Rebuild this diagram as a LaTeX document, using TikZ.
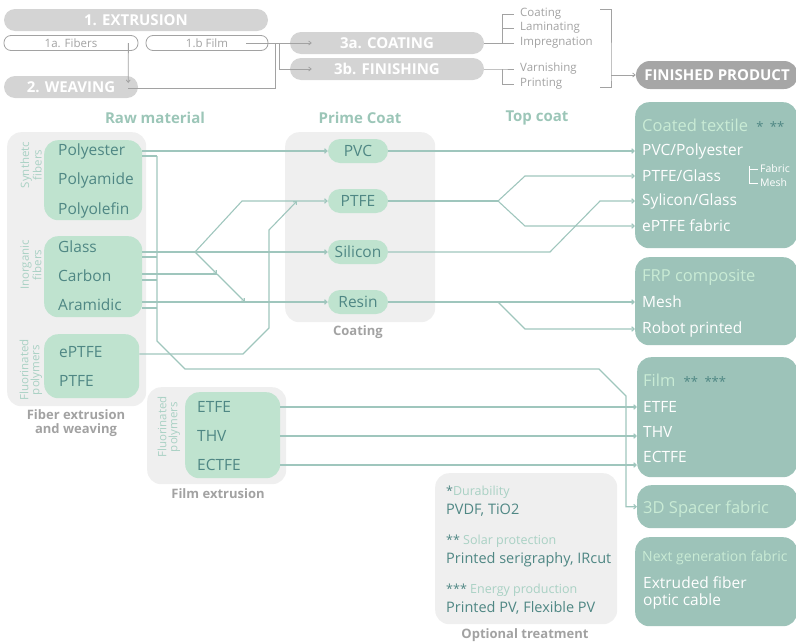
\documentclass[tikz,border=0pt]{standalone}
\usepackage{fontspec}
\setmainfont{Open Sans}
\usepackage{xcolor}
\usetikzlibrary{arrows.meta, positioning, calc}
\definecolor{pillgrey}{HTML}{D4D4D4}
\definecolor{darkgrey}{HTML}{A6A6A6}
\definecolor{subgrey}{HTML}{A2A2A2}
\definecolor{panelgrey}{HTML}{EFEFEF}
\definecolor{mint}{HTML}{BFE3CF}
\definecolor{darkteal}{HTML}{4F8784}
\definecolor{paleteal}{HTML}{A9D1C4}
\definecolor{headteal}{HTML}{9CC6B8}
\definecolor{boxteal}{HTML}{9DC3B9}
\definecolor{lightgreen}{HTML}{C9EBD5}
\definecolor{linkteal}{HTML}{9FC6BD}

\begin{document}
\begin{tikzpicture}[
  x=1pt, y=-1pt,
  stage/.style={fill=pillgrey, rounded corners=11pt, text=white, font=\bfseries\fontsize{15}{15}\selectfont, minimum height=22pt, inner sep=0pt},
  substage/.style={draw=subgrey, line width=0.8pt, rounded corners=7pt, text=subgrey, font=\fontsize{11.5}{12}\selectfont, minimum height=15pt, inner sep=0pt},
  grayline/.style={draw=subgrey, line width=0.8pt},
  grayarrow/.style={grayline, -{Straight Barb[length=2.5pt,width=4pt]}},
  smallgrey/.style={text=subgrey, font=\fontsize{11.5}{12}\selectfont, anchor=west, inner xsep=6pt, inner ysep=0pt},
  header/.style={text=headteal, font=\bfseries\fontsize{15}{15}\selectfont},
  panel/.style={fill=panelgrey, rounded corners=14pt, anchor=north west, inner sep=0pt},
  panellabel/.style={text=subgrey, font=\bfseries\fontsize{13}{14}\selectfont, align=center},
  matbox/.style={fill=mint, rounded corners=14pt, anchor=north west, inner sep=0pt},
  matitem/.style={text=darkteal, font=\fontsize{15.5}{16}\selectfont, anchor=west, inner sep=0pt},
  sidelabel/.style={text=paleteal, font=\fontsize{11.5}{11}\selectfont, rotate=90, align=center, inner sep=0pt},
  coat/.style={fill=mint, rounded corners=12pt, minimum width=60pt, minimum height=24pt, text=darkteal, font=\fontsize{15.5}{16}\selectfont, inner sep=0pt},
  product/.style={fill=boxteal, rounded corners=14pt, anchor=north west, inner sep=0pt},
  prodtitle/.style={text=lightgreen, font=\fontsize{16.5}{16}\selectfont, anchor=west, inner sep=0pt},
  proditem/.style={text=white, font=\fontsize{15.5}{16}\selectfont, anchor=west, inner sep=0pt, align=left},
  optkey/.style={text=paleteal, font=\fontsize{12.5}{13}\selectfont, anchor=west, inner sep=0pt},
  optval/.style={text=darkteal, font=\fontsize{14.5}{15}\selectfont, anchor=west, inner sep=0pt},
  wire/.style={draw=linkteal, line width=1.1pt},
  link/.style={wire, -{Straight Barb[length=2.5pt,width=4.5pt]}}
]
  \useasboundingbox (0,0) rectangle (796,643);

  % process stages
  \node[stage, minimum width=264pt] (extrusion) at (136,20) {1. EXTRUSION};
  \node[substage, minimum width=134pt] (fibers) at (71,43) {1a. Fibers};
  \node[substage, minimum width=122pt] (film) at (207,43) {1.b Film};
  \node[stage, minimum width=134pt] (weaving) at (71,87) {2. WEAVING};
  \node[stage, minimum width=194pt] (coatA) at (387,43) {3a. COATING};
  \node[stage, minimum width=194pt] (coatB) at (387,69) {3b. FINISHING};
  \node[stage, fill=darkgrey, minimum width=162pt, minimum height=28pt, rounded corners=14pt] (finished) at (717,75) {FINISHED PRODUCT};

  \node[smallgrey] (tcoating) at (514,14) {Coating};
  \node[smallgrey] (tlaminating) at (514,28) {Laminating};
  \node[smallgrey] (timpregnation) at (514,43) {Impregnation};
  \node[smallgrey] (tvarnishing) at (514,69) {Varnishing};
  \node[smallgrey] (tprinting) at (514,84) {Printing};

  \coordinate (filmjoin) at (275,43);
  \coordinate (filmfork) at (279,43);
  \coordinate (coatAfork) at (502,43);
  \coordinate (coatBfork) at (502,69);
  \coordinate (brtop) at (600,9);
  \coordinate (brbot) at (600,87);
  \coordinate (brout) at (611,75);

  \draw[grayarrow] ([xshift=-10pt]fibers.east) -- ([xshift=-10pt,yshift=4pt]weaving.east);
  \draw[grayarrow] ([xshift=-22pt]film.east) -- ([xshift=22pt]coatA.west);
  \draw[grayline] ([xshift=-10pt,yshift=-1pt]weaving.east) -| (filmjoin);
  \draw[grayarrow] (filmfork) |- ([xshift=22pt]coatB.west);
  \draw[grayline] (coatA.east) -- (coatAfork) |- (tcoating.west);
  \draw[grayline] (coatAfork) |- (tlaminating.west);
  \draw[grayline] (coatAfork) -- (timpregnation.west);
  \draw[grayline] (coatB.east) -- (coatBfork) -- (tvarnishing.west);
  \draw[grayline] (coatBfork) |- (tprinting.west);
  \draw[grayline] (brtop) -| (brout) |- (brbot);
  \draw[grayarrow] (brout) -- (finished.west);

  % column heads
  \node[header] (rawhead) at (155,118) {Raw material};
  \node[header] (primehead) at (360,118) {Prime Coat};
  \node[header] (tophead) at (537,118) {Top coat};

  % panels
  \node[panel, minimum width=139pt, minimum height=274pt] (fiberpanel) at (7,132) {};
  \node[panel, minimum width=150pt, minimum height=190pt] (coatpanel) at (285,132) {};
  \node[panel, minimum width=139pt, minimum height=97pt] (filmpanel) at (147,387) {};
  \node[panel, minimum width=182pt, minimum height=151pt] (optpanel) at (435,473) {};
  \node[panellabel] (fiberlabel) at (76,423) {Fiber extrusion\\and weaving};
  \node[panellabel] (coatlabel) at (358,332) {Coating};
  \node[panellabel] (filmlabel) at (218,494) {Film extrusion};
  \node[panellabel] (optlabel) at (525,635) {Optional treatment};

  % raw materials
  \node[matbox, minimum width=98pt, minimum height=80pt] (synbox) at (44,140) {};
  \node[matbox, minimum width=98pt, minimum height=81pt] (inorgbox) at (44,236) {};
  \node[matbox, minimum width=95pt, minimum height=64pt] (fluorbox) at (44,334) {};
  \node[sidelabel] (synlabel) at (31,165) {Synthetc\\fibers};
  \node[sidelabel] (inorglabel) at (31,265) {Inorganic\\fibers};
  \node[sidelabel] (fluorlabel) at (31,370) {Fluorinated\\polymers};
  \node[matitem] (polyester) at (58,151) {Polyester};
  \node[matitem] (polyamide) at (58,180) {Polyamide};
  \node[matitem] (polyolefin) at (58,210) {Polyolefin};
  \node[matitem] (glass) at (58,247) {Glass};
  \node[matitem] (carbon) at (58,276) {Carbon};
  \node[matitem] (aramidic) at (58,305) {Aramidic};
  \node[matitem] (eptfe) at (59,352) {ePTFE};
  \node[matitem] (ptferaw) at (59,381) {PTFE};

  % film raw materials
  \node[matbox, minimum width=95pt, minimum height=86pt] (filmbox) at (185,392) {};
  \node[sidelabel] (filmfluor) at (169,427) {Fluorinated\\polymers};
  \node[matitem] (etfeL) at (197,407) {ETFE};
  \node[matitem] (thvL) at (197,436) {THV};
  \node[matitem] (ectfeL) at (197,465) {ECTFE};

  % prime coat
  \node[coat] (pvc) at (358,151) {PVC};
  \node[coat] (ptfe) at (358,201) {PTFE};
  \node[coat] (silicon) at (358,252) {Silicon};
  \node[coat] (resin) at (358,302) {Resin};

  % finished products
  \node[product, minimum width=162pt, minimum height=146pt] (coated) at (635,102) {};
  \node[prodtitle] (coatedtitle) at (642,125) {Coated textile\enspace\textcolor{darkteal}{\fontsize{13}{13}\selectfont *\enspace**}};
  \node[proditem] (pvcpoly) at (642,151) {PVC/Polyester};
  \node[proditem] (ptfeglass) at (642,176) {PTFE/Glass};
  \node[proditem] (syliglass) at (642,201) {Sylicon/Glass};
  \node[proditem] (eptfefab) at (642,226) {ePTFE fabric};
  \node[proditem, font=\fontsize{10.5}{11}\selectfont, inner xsep=2pt] (fabric) at (758,169) {Fabric};
  \node[proditem, font=\fontsize{10.5}{11}\selectfont, inner xsep=2pt] (mesh) at (758,183) {Mesh};
  \coordinate (fabricfork) at (749,166);
  \draw[draw=white, line width=0.7pt] (fabricfork) |- (mesh.west);
  \draw[draw=white, line width=0.7pt] (fabricfork |- fabric) -- (fabric.west);

  \node[product, minimum width=162pt, minimum height=88pt] (frp) at (635,257) {};
  \node[prodtitle] (frptitle) at (642,277) {FRP composite};
  \node[proditem] (frpmesh) at (642,302) {Mesh};
  \node[proditem] (robot) at (642,329) {Robot printed};

  \node[product, minimum width=160pt, minimum height=120pt] (filmR) at (637,357) {};
  \node[prodtitle] (filmtitle) at (643,380) {Film\enspace\textcolor{darkteal}{\fontsize{13}{13}\selectfont **\enspace***}};
  \node[proditem] (etfeR) at (643,407) {ETFE};
  \node[proditem] (thvR) at (643,432) {THV};
  \node[proditem] (ectfeR) at (643,457) {ECTFE};

  \node[product, minimum width=160pt, minimum height=43pt] (spacer) at (637,485) {};
  \node[prodtitle] (spacertitle) at (643,509) {3D Spacer fabric};

  \node[product, minimum width=162pt, minimum height=89pt] (nextgen) at (635,537) {};
  \node[prodtitle, font=\fontsize{14}{14}\selectfont] (nexttitle) at (642,558) {Next generation fabric};
  \node[proditem, font=\fontsize{15.5}{17}\selectfont] (optic) at (643,593) {Extruded fiber\\optic cable};

  % optional treatment
  \node[optkey] (durability) at (446,492) {\textcolor{darkteal}{*}Durability};
  \node[optval] (pvdf) at (446,510) {PVDF, TiO2};
  \node[optkey] (solar) at (446,541) {\textcolor{darkteal}{**} Solar protection};
  \node[optval] (serigraphy) at (446,560) {Printed serigraphy, IRcut};
  \node[optkey] (energy) at (446,590) {\textcolor{darkteal}{***} Energy production};
  \node[optval] (flexpv) at (446,608) {Printed PV, Flexible PV};

  % routing points
  \coordinate (glassfork) at (195,252);
  \coordinate (forkup) at (242,201);
  \coordinate (carbonhit) at (217,274);
  \coordinate (aramhit) at (245,302);
  \coordinate (eptfeA) at (243,354);
  \coordinate (eptfeB) at (269,328);
  \coordinate (eptfeC) at (269,230);
  \coordinate (eptfeD) at (297,201);
  \coordinate (spineA) at (157,156);
  \coordinate (spineB) at (157,341);
  \coordinate (spineC) at (185,369);
  \coordinate (spineD) at (599,369);
  \coordinate (spineE) at (626,396);
  \coordinate (ptfesplit) at (498,201);
  \coordinate (ptfeup) at (525,176);
  \coordinate (ptfedown) at (525,226);
  \coordinate (silbend) at (550,252);
  \coordinate (silup) at (600,201);
  \coordinate (resinsplit) at (498,302);
  \coordinate (resindown) at (525,329);

  % raw material to prime coat
  \draw[link] (synbox.east |- polyester) -- (pvc.west);
  \draw[link] (silicon -| inorgbox.east) -- (silicon.west);
  \draw[link] (glassfork) -- (forkup) -- (ptfe.west);
  \draw[link] (glassfork) -- (carbonhit);
  \draw[wire] (carbonhit -| inorgbox.east) -- (carbonhit);
  \draw[link] (carbonhit) -- (aramhit);
  \draw[link] (resin -| inorgbox.east) -- (resin.west);
  \draw[link] (eptfeA -| fluorbox.east) -- (eptfeA) -- (eptfeB) -- (eptfeC) -- (eptfeD);

  % fibers to 3D spacer fabric
  \draw[wire] (synbox.east |- spineA) -- (spineA);
  \foreach \y in {257,280,308}
    \draw[wire] (inorgbox.east |- 0,\y) -- (spineA |- 0,\y);
  \draw[link] (spineA) -- (spineB) -- (spineC) -- (spineD) -- (spineE) |- (spacer.west);

  % prime coat to top coat
  \draw[link] (pvc.east) -- (coated.west |- pvcpoly);
  \draw[wire] (ptfe.east) -- (ptfesplit);
  \draw[link] (ptfesplit) -- (ptfeup) -- (coated.west |- ptfeglass);
  \draw[link] (ptfesplit) -- (ptfedown) -- (coated.west |- eptfefab);
  \draw[link] (silicon.east) -- (silbend) -- (silup) -- (coated.west |- syliglass);
  \draw[link] (resin.east) -- (frp.west |- frpmesh);
  \draw[link] (resinsplit) -- (resindown) -- (frp.west |- robot);

  % film extrusion
  \draw[link] (filmbox.east |- etfeL) -- (filmR.west |- etfeL);
  \draw[link] (filmbox.east |- thvL) -- (filmR.west |- thvL);
  \draw[link] (filmbox.east |- ectfeL) -- (filmR.west |- ectfeL);
\end{tikzpicture}
\end{document}
